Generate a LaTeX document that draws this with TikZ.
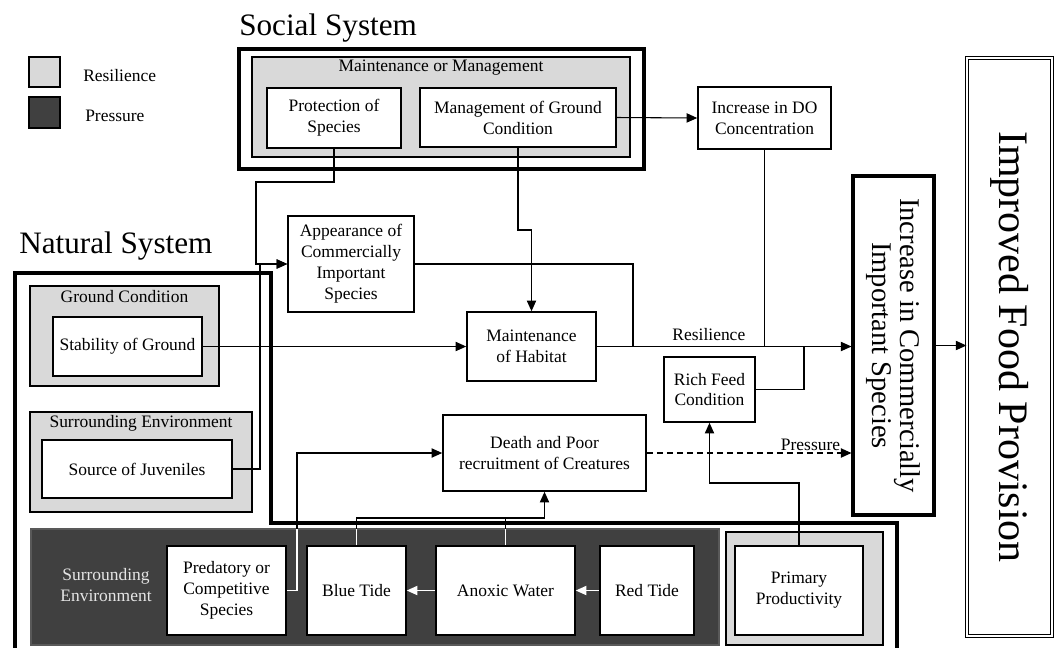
\documentclass[tikz,border=0pt]{standalone}
\usepackage{fontspec}
\setmainfont{Liberation Serif}
\usetikzlibrary{arrows.meta}
\newcommand{\bodyfont}{\fontsize{13.1pt}{15.7pt}\selectfont}
\newcommand{\titlefont}{\fontsize{23.4pt}{26pt}\selectfont}
\newcommand{\incrfont}{\fontsize{21.4pt}{21.5pt}\selectfont}
\newcommand{\foodfont}{\fontsize{31.5pt}{34pt}\selectfont}

\begin{document}
\begin{tikzpicture}[x=0.75pt, y=-0.75pt,
  box/.style={draw, line width=1.2pt, fill=white, align=center, font=\bodyfont, inner sep=1pt},
  grp/.style={draw, line width=1pt, fill=black!15},
  sys/.style={draw, line width=2.6pt},
  lbl/.style={font=\bodyfont, inner sep=0pt, align=center},
  con/.style={line width=0.8pt},
  arr/.style={con, -{Triangle[length=8pt, width=7pt]}},
  wht/.style={con, draw=white},
  wharr/.style={wht, -{Triangle[length=8pt, width=7pt]}}]
\useasboundingbox (0,0) rectangle (1059,647);

\node[draw, line width=1pt, fill=black!15, minimum width=23.25pt, minimum height=22.5pt] (legres) at (44.5,72) {};
\node[draw, line width=1pt, fill=black!75, minimum width=23.25pt, minimum height=23.25pt] (legpres) at (44.5,112.5) {};
\node[lbl, anchor=west] (legrestxt) at (83,76) {Resilience};
\node[lbl, anchor=west] (legprestxt) at (85,116) {Pressure};

\node[font=\titlefont, anchor=base west, inner sep=0pt] (ttlsoc) at (239,35) {Social System};
\node[font=\titlefont, anchor=base west, inner sep=0pt] (ttlnat) at (19,253) {Natural System};

\draw[sys] (239,49) rectangle (644,169);
\filldraw[grp] (252,57) rectangle (630,157);
\filldraw[grp] (30,286) rectangle (219,386);
\filldraw[grp] (30,412) rectangle (252,512);
\filldraw[draw=black!65, line width=1pt, fill=black!75] (31,529) rectangle (719,645);
\filldraw[grp] (726,532) rectangle (883,645);
\draw[sys] (15,652) -- (15,273) -- (271,273) -- (271,523) -- (897,523) -- (897,652);

\node[lbl] (lblmm) at (441,68) {Maintenance or Management};
\node[lbl] (lblgc) at (124.5,297) {Ground Condition};
\node[lbl] (lblse) at (141,423) {Surrounding Environment};
\node[lbl, text=black!10] (lblpe) at (106,585) {Surrounding\\Environment};

\node[box, minimum width=100.5pt, minimum height=45pt] (prot) at (334,118) {Protection of\\Species};
\node[box, minimum width=147pt, minimum height=44.25pt] (mgmt) at (518,117.5) {Management of Ground\\Condition};
\node[box, minimum width=99.75pt, minimum height=46.5pt] (dO) at (764.5,118) {Increase in DO\\Concentration};
\node[box, minimum width=94.5pt, minimum height=72pt] (appr) at (351,264) {Appearance of\\Commercially\\Important\\Species};
\node[box, minimum width=96.75pt, minimum height=51.75pt] (habit) at (531.5,346.5) {Maintenance\\of Habitat};
\node[box, minimum width=111.75pt, minimum height=44.25pt] (stab) at (127.5,346.5) {Stability of Ground};
\node[box, minimum width=142.5pt, minimum height=43.5pt] (juv) at (137,469) {Source of Juveniles};
\node[box, minimum width=152.25pt, minimum height=57pt] (death) at (544.5,453) {Death and Poor\\recruitment of Creatures};
\node[box, minimum width=68.25pt, minimum height=48.75pt] (feed) at (709.5,389.5) {Rich Feed\\Condition};
\node[box, minimum width=89.25pt, minimum height=66.75pt] (pred) at (226.5,590.5) {Predatory or\\Competitive\\Species};
\node[box, minimum width=74.25pt, minimum height=66.75pt] (blue) at (356.5,590.5) {Blue Tide};
\node[box, minimum width=104.25pt, minimum height=66.75pt] (anox) at (505.5,590.5) {Anoxic Water};
\node[box, minimum width=70.5pt, minimum height=66.75pt] (red) at (647,590.5) {Red Tide};
\node[box, minimum width=96pt, minimum height=66.75pt] (prim) at (799,590.5) {Primary\\Productivity};
\node[box, line width=2.3pt, rotate=-90, minimum width=254.25pt, minimum height=60.75pt, font=\incrfont] (incr) at (893.5,345.5) {Increase in Commercially\\Important Species};
\node[box, double, double distance=1.6pt, line width=0.6pt, rotate=-90, minimum width=433.7pt, minimum height=64pt, font=\foodfont] (food) at (1009.5,347) {Improved Food Provision};

\draw[arr] (mgmt.east) -- (dO.west);
\draw[con] (dO.south) -- (dO.south |- habit.east);
\draw[arr] (prot.south) |- (256,182) |- (appr.west);
\draw[arr] (juv.east) -| (260,264) -- (appr.west);
\draw[con] (appr.east) -| (633,346.5);
\draw[arr] (mgmt.south) -- (518,230) -| (habit.north);
\draw[arr] (stab.east) -- (habit.west);
\draw[arr] (habit.east) -- (incr.south |- habit.east) node[lbl, pos=0.44, above=4pt] (lblres) {Resilience};
\draw[con] (feed.east) -| (804,346.5);
\draw[arr] (prim.north) |- (709.5,483) -- (feed.south);
\draw[arr, line width=1pt, dash pattern=on 4.5pt off 3pt] (death.east) -- (incr.south |- death.east) node[lbl, pos=0.8, above=1.5pt] (lblpres) {Pressure};
\draw[arr] (pred.east) -| (297,453) -- (death.west);
\draw[wht] (pred.east) -| (297,529);
\draw[arr] (blue.north) |- (544.5,518) -- (death.south);
\draw[con] (anox.north) -- (505.5,518);
\draw[wht] (blue.north) -- (356.5,529);
\draw[wht] (anox.north) -- (505.5,529);
\draw[wharr] (red.west) -- (anox.east);
\draw[wharr] (anox.west) -- (blue.east);
\draw[arr] (incr.north) -- (incr.north -| food.south);
\end{tikzpicture}
\end{document}
